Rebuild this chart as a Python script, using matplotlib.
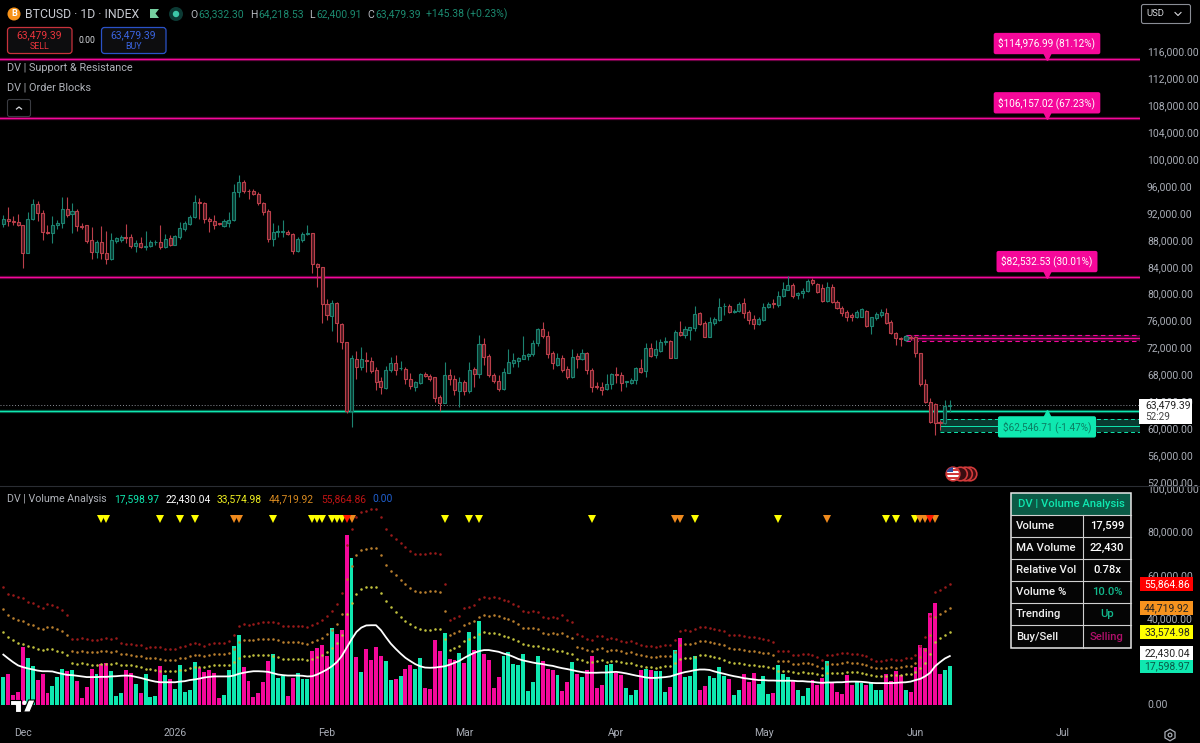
import pandas as pd
import matplotlib
matplotlib.use("Agg")
import matplotlib.pyplot as plt
from matplotlib.patches import Rectangle, FancyBboxPatch, Circle, Polygon, RegularPolygon
from matplotlib.transforms import offset_copy

# daily BTCUSD candles, first bar is 2025-11-27
first_day = "2025-11-27"
opens = [
    90357, 91051, 90853, 90654, 90208, 86091, 91051, 93333, 91944, 89117,
    88968, 90158, 90456, 92539, 91795, 92341, 90109, 90158, 87976, 86190,
    87728, 86091, 85149, 87827, 87976, 88422, 88472, 87083, 87480, 86984,
    87083, 87629, 87728, 86885, 88274, 87282, 88373, 89662, 90307, 91349,
    93581, 93531, 91051, 90853, 90456, 90109, 90456, 90952, 95069, 96656,
    95317, 95317, 94870, 93432, 92341, 88174, 89166, 89216, 89216, 88869,
    86290, 87976, 88869, 89018, 84355, 83909, 78453, 76717, 78552, 75526,
    72848, 62581, 70318, 69029, 70120, 69971, 68632, 66946, 66003, 68632,
    69624, 68880, 68781, 67293, 66152, 66747, 67987, 67789, 67541, 64565,
    63771, 67888, 67293, 65557, 66846, 65507, 68731, 68037, 72501, 70666,
    67888, 67045, 65755, 68235, 69723, 70021, 70318, 70765, 70963, 72600,
    74683, 73691, 71112, 69376, 70368, 68731, 67541, 70715, 70318, 71112,
    68632, 66251, 66152, 65755, 66499, 68037, 67888, 66846, 66747, 67144,
    68880, 68533, 71856, 70864, 71509, 72848, 72947, 70467, 74237, 73840,
    74584, 74931, 77064, 75576, 73542, 75576, 76072, 78106, 78155, 77213,
    77461, 78552, 77312, 76171, 75477, 76072, 78056, 78552, 78304, 79643,
    80536, 81330, 79742, 80040, 80437, 82024, 81429, 80784, 78949, 80933,
    78800, 77907, 77213, 76766, 76469, 76568, 77411, 75179, 76320, 76816,
    77163, 75725, 74187, 73344, 73096, 73542, 73493, 71112, 66499, 63821,
    63622, 60845, 60696, 63332.30,
]
highs = [
    91696, 92936, 91547, 91845, 90208, 92192, 94027, 93829, 92440, 90208,
    91547, 90952, 94325, 94325, 93432, 92539, 90456, 90208, 89861, 87976,
    90109, 89315, 89067, 88472, 88720, 90307, 88869, 87976, 88373, 89315,
    87976, 87976, 90208, 88869, 88770, 88720, 90704, 90803, 91696, 94672,
    94176, 93680, 91448, 91696, 90555, 91051, 92192, 96309, 97648, 96904,
    95515, 95515, 95168, 93581, 92589, 90456, 90208, 90952, 89464, 89067,
    88373, 89216, 90208, 89067, 84504, 84008, 79147, 79048, 78800, 75576,
    72848, 70864, 71509, 72104, 71360, 70616, 69128, 67640, 69227, 70566,
    70864, 69971, 69128, 68235, 67045, 68136, 68384, 67987, 67640, 64912,
    69872, 68731, 67888, 67640, 67144, 69872, 69029, 73840, 73344, 71013,
    68136, 67888, 68880, 71707, 71112, 70616, 73691, 71112, 73096, 74832,
    75824, 74485, 71509, 71112, 70864, 69227, 71707, 71112, 71707, 71261,
    68880, 66896, 66896, 68037, 68235, 69128, 68384, 67045, 67392, 69029,
    70219, 72600, 72600, 73096, 73195, 73592, 73096, 74584, 75923, 75179,
    75080, 78205, 77213, 75923, 76469, 76568, 79296, 78552, 78453, 77709,
    78800, 79296, 77560, 76816, 76568, 78651, 78800, 79147, 80437, 81776,
    82619, 81528, 80288, 80784, 82123, 82272, 81627, 81429, 81776, 81429,
    79048, 78155, 77560, 77064, 77560, 77907, 77560, 76568, 77312, 77659,
    77907, 76072, 74336, 73592, 73840, 73840, 73691, 71211, 67243, 64416,
    63672, 61192, 64168, 64218.53,
]
lows = [
    89960, 90059, 90158, 90059, 83760, 86091, 90952, 90853, 87976, 88869,
    87579, 89563, 89712, 91349, 89067, 89365, 89613, 87480, 85099, 85248,
    85099, 84405, 85000, 87579, 87678, 87480, 86736, 86240, 86736, 86488,
    86885, 87232, 86587, 86736, 87083, 87182, 88174, 89315, 90158, 91200,
    91051, 90456, 89117, 89563, 90208, 89960, 89960, 90853, 94424, 95019,
    94027, 94672, 93184, 91696, 87728, 87083, 88373, 88373, 88720, 85893,
    86190, 87728, 88670, 83115, 80933, 75576, 76072, 74485, 72848, 71707,
    62184, 60101, 67243, 68632, 68384, 68136, 65656, 65061, 65755, 68384,
    67888, 68632, 66549, 65755, 65557, 66549, 67541, 67045, 63920, 62581,
    63771, 66400, 64912, 63077, 64912, 65160, 66053, 67392, 69376, 67541,
    66747, 65557, 65656, 68136, 69029, 69029, 70219, 70120, 70715, 72203,
    73344, 70368, 68731, 69227, 68384, 67243, 67392, 68880, 70120, 68037,
    65408, 65755, 64912, 65656, 65755, 66648, 65557, 66152, 66549, 66549,
    68136, 67541, 70517, 70368, 71360, 72352, 70368, 70368, 73691, 73443,
    73096, 74485, 75328, 73493, 73493, 75328, 75973, 76816, 77064, 77064,
    77312, 76320, 75477, 74733, 75328, 75973, 77907, 77907, 78056, 79544,
    80536, 79296, 79147, 79296, 80288, 81280, 80040, 78800, 78800, 78651,
    77659, 76667, 75923, 75973, 76320, 76469, 75080, 73989, 76072, 76568,
    75477, 73989, 72352, 72253, 72947, 73096, 70517, 66251, 63672, 60696,
    58960, 59704, 60597, 62400.91,
]
closes = [
    91051, 90754, 90654, 90208, 86091, 91051, 93333, 91944, 89117, 89018,
    90208, 90555, 92539, 91696, 92291, 90059, 89960, 87778, 86190, 87728,
    86091, 85099, 87976, 88224, 88373, 88323, 87133, 87480, 86885, 87083,
    87678, 87728, 86885, 88174, 87182, 88571, 89712, 90456, 91448, 93680,
    93432, 91051, 90803, 90258, 90357, 90803, 90952, 95069, 96656, 95317,
    95218, 94821, 93432, 92192, 88075, 89117, 89266, 89315, 88918, 86290,
    88075, 88869, 89067, 84405, 83909, 78453, 76816, 78552, 75576, 72848,
    62581, 70368, 69029, 70219, 69922, 68533, 66896, 66053, 68632, 69624,
    68632, 68979, 67243, 66251, 66797, 67987, 67739, 67342, 64416, 63771,
    67888, 67243, 65656, 66797, 65557, 68632, 68037, 72501, 70616, 67888,
    66995, 65755, 68285, 69872, 70120, 70368, 70814, 71013, 72600, 74683,
    73691, 71013, 69624, 70368, 68632, 67541, 70616, 70219, 71112, 68632,
    66152, 66152, 65656, 66549, 68037, 67888, 66648, 66946, 67144, 68880,
    68384, 71856, 70715, 71757, 72798, 72947, 70467, 74237, 73840, 74733,
    74981, 76915, 75477, 73493, 75725, 76171, 78006, 78205, 77213, 77461,
    78453, 77163, 76072, 75477, 76221, 78056, 78453, 78453, 79643, 80635,
    81280, 79643, 80040, 80437, 81925, 81528, 80288, 78949, 80933, 78800,
    77907, 77163, 76469, 76469, 77312, 77659, 75229, 76469, 76915, 77312,
    75576, 74187, 73344, 73195, 73691, 73443, 71112, 66499, 63821, 60845,
    60696, 60696, 63334, 63479.39,
]
volumes = [
    12653, 14350, 4629, 5709, 26694, 21602, 17745, 11573, 14196, 5401,
    8487, 12653, 16664, 15430, 16202, 11110, 3086, 8024, 16664, 14196,
    18979, 19288, 15430, 3858, 5401, 15893, 14659, 9567, 5401, 14196,
    3549, 3858, 17745, 13887, 11881, 7252, 18207, 5709, 6944, 19750,
    16973, 14967, 15893, 14659, 3086, 4629, 15893, 27003, 32249, 17436,
    11110, 3549, 5401, 10492, 20059, 23454, 12344, 13424, 3858, 12344,
    14659, 12035, 12035, 24997, 26231, 27774, 22374, 35335, 32712, 34718,
    78693, 67738, 22065, 15276, 25922, 20522, 26848, 22682, 20059, 11573,
    11881, 13424, 16664, 18207, 16510, 21756, 7715, 7406, 29934, 24688,
    33329, 21293, 20831, 23917, 19442, 33637, 25460, 38575, 23608, 20831,
    7715, 12807, 22682, 24379, 18979, 18207, 23608, 6481, 10647, 22682,
    20059, 16664, 16047, 13733, 6481, 10338, 19750, 14350, 12807, 15893,
    22374, 7715, 9104, 18516, 18979, 14659, 13887, 7715, 4629, 6944,
    15893, 16664, 16047, 15739, 15739, 5863, 8024, 25460, 30706, 12653,
    13424, 22682, 6944, 8795, 13424, 12190, 17436, 13424, 11881, 4629,
    6944, 14196, 10647, 14504, 9721, 13424, 4783, 5401, 18516, 14196,
    12961, 10801, 6944, 4166, 7715, 11264, 9258, 12190, 20059, 10030,
    6018, 5092, 13578, 9258, 10492, 10030, 9258, 10338, 6944, 6635,
    14350, 10801, 15430, 13578, 6635, 5863, 17436, 27774, 26077, 42433,
    47062, 14350, 16202, 17598.97,
]
# volume moving average and the width of one band above it, in thousands
ma_volume = [
    23.1, 21.3, 19.6, 18.1, 17.3, 16.7, 16.2, 15.7, 15.4, 15.4,
    15.3, 14.7, 14.2, 13.7, 13.6, 13.3, 13.0, 12.7, 12.7, 12.7,
    12.8, 12.8, 13.0, 13.1, 13.3, 13.4, 13.3, 12.8, 12.3, 11.7,
    11.1, 10.6, 10.3, 10.3, 10.3, 10.3, 10.6, 10.8, 11.3, 11.6,
    12.0, 12.5, 12.8, 13.0, 13.0, 13.0, 13.0, 13.4, 14.2, 14.7,
    15.1, 15.4, 15.4, 15.3, 15.1, 14.5, 13.9, 13.6, 13.4, 13.4,
    13.4, 13.3, 13.0, 13.1, 13.9, 15.0, 16.2, 17.7, 19.6, 22.4,
    26.2, 30.1, 33.6, 35.6, 36.6, 36.7, 36.7, 34.4, 31.2, 28.2,
    25.8, 23.6, 21.6, 20.1, 18.7, 17.7, 17.1, 17.0, 17.1, 17.4,
    17.7, 18.4, 19.3, 20.2, 21.6, 22.8, 23.9, 24.7, 25.2, 25.2,
    24.8, 24.4, 23.6, 23.0, 22.1, 21.1, 20.4, 19.9, 19.4, 19.0,
    18.7, 18.2, 17.9, 17.3, 16.8, 16.4, 15.9, 15.4, 15.0, 14.7,
    14.7, 14.7, 14.8, 14.8, 15.0, 15.1, 14.8, 14.4, 13.9, 13.4,
    13.0, 12.5, 12.3, 12.3, 12.5, 12.7, 13.0, 13.7, 14.4, 15.0,
    15.4, 15.9, 16.2, 16.2, 16.0, 15.3, 14.7, 14.2, 13.6, 13.1,
    12.7, 12.2, 11.9, 11.6, 11.3, 11.3, 11.1, 11.1, 11.0, 11.0,
    11.0, 11.0, 10.8, 10.8, 10.6, 10.5, 10.2, 10.0, 10.2, 10.2,
    10.3, 10.3, 10.5, 10.6, 10.6, 10.5, 10.3, 10.0, 9.9, 9.9,
    9.9, 9.9, 10.0, 10.2, 10.3, 10.6, 11.3, 11.9, 13.1, 14.7,
    17.7, 19.6, 21.3, 22.43,
]
band_step = [
    10.5, 10.0, 10.3, 10.6, 10.6, 10.2, 10.3, 9.9, 9.7, 10.3,
    10.3, 10.2, 9.9, 9.3, 5.6, 5.6, 6.0, 5.9, 5.7, 5.7,
    5.9, 6.0, 5.7, 5.9, 5.1, 4.9, 4.9, 4.9, 5.1, 4.8,
    5.2, 5.4, 5.4, 5.2, 5.2, 5.2, 5.4, 5.4, 5.6, 5.6,
    5.4, 4.9, 5.1, 5.1, 5.2, 5.1, 5.4, 6.2, 7.4, 7.6,
    7.3, 7.3, 7.4, 7.6, 7.7, 7.9, 8.0, 7.6, 7.7, 7.7,
    7.7, 7.7, 7.6, 7.9, 8.0, 8.0, 8.2, 8.5, 8.9, 9.7,
    15.9, 17.0, 17.7, 17.9, 17.7, 17.9, 17.9, 17.4, 16.7, 16.8,
    17.0, 17.1, 17.1, 17.0, 17.0, 17.3, 17.6, 17.7, 17.7, 17.4,
    12.7, 6.9, 6.9, 6.9, 7.7, 7.4, 7.4, 8.0, 8.2, 8.0,
    8.3, 8.3, 8.3, 8.3, 8.2, 8.2, 7.6, 7.7, 7.9, 7.9,
    7.3, 7.3, 7.6, 7.6, 8.2, 7.6, 7.4, 5.7, 5.6, 5.2,
    5.1, 5.6, 5.6, 5.1, 5.2, 5.1, 4.9, 4.8, 5.1, 5.1,
    4.9, 4.9, 4.9, 4.8, 4.9, 4.9, 4.8, 5.4, 6.5, 6.5,
    6.2, 6.3, 6.5, 6.6, 6.5, 6.5, 6.6, 6.6, 6.2, 6.3,
    6.5, 6.5, 6.5, 6.5, 6.5, 6.3, 6.3, 5.9, 4.6, 4.6,
    4.6, 3.9, 4.0, 4.2, 4.2, 4.2, 3.9, 3.5, 4.3, 4.2,
    4.3, 4.5, 4.5, 4.3, 4.3, 4.2, 4.0, 3.7, 3.4, 3.4,
    3.5, 3.7, 3.5, 3.5, 3.7, 3.7, 3.9, 5.1, 6.0, 8.8,
    11.4, 11.1, 11.1, 11.145,
]
# bars (counted from 1) that carry a volume warning triangle
yellow_signals = [21, 22, 33, 37, 40, 56, 64, 65, 66, 68, 69, 70, 91, 96, 98,
                  121, 142, 159, 181, 183, 187]
orange_signals = [48, 49, 72, 138, 139, 169, 188, 189, 191]
red_signals = [71, 190]

price_ticks = list(range(52000, 116001, 4000))
volume_ticks = [0, 40000, 60000, 80000, 100000]
month_dates = ["2025-12-01", "2026-01-01", "2026-02-01", "2026-03-01",
               "2026-04-01", "2026-05-01", "2026-06-01", "2026-07-01"]
month_labels = ["Dec", "2026", "Feb", "Mar", "Apr", "May", "Jun", "Jul"]

resistance_levels = [114976.99, 106157.02, 82532.53]
resistance_labels = ["$114,976.99 (81.12%)", "$106,157.02 (67.23%)", "$82,532.53 (30.01%)"]
support_level = 62546.71
support_label = "$62,546.71 (-1.47%)"
bear_block = [72997, 73443, 73840]
bull_block = [59357, 60349, 61291]
bear_block_start = 184
bull_block_start = 191
last_price = 63479.39

table_rows = ["Volume", "MA Volume", "Relative Vol", "Volume %", "Trending", "Buy/Sell"]
table_values = ["17,599", "22,430", "0.78x", "10.0%", "Up", "Selling"]

PINK = "#f5089a"
TEAL = "#0fe8b0"
UP = "#1c8270"
DOWN = "#bb3f4a"
TICK = "#a9adb6"

plt.rcParams["font.family"] = ["Roboto", "DejaVu Sans"]

fig = plt.figure(figsize=(12, 7.43), dpi=100, facecolor="black")
W, H = 1200.0, 743.0

# price pane and volume pane share the same bar positions
xlim = (-3.33 / 4.904, (1140 - 3.33) / 4.904)
ax = fig.add_axes([0, (H - 485) / H, 1140 / W, 485 / H], facecolor="black")
ax_vol = fig.add_axes([0, (H - 720) / H, 1140 / W, (720 - 486) / H], facecolor="black")
ax.set_xlim(xlim)
ax_vol.set_xlim(xlim)
ax.set_ylim(60000 - 57 * 148.8, 60000 + 428 * 148.8)
ax_vol.set_ylim(-(720 - 704.5) / 2.16 * 1000, (704.5 - 486) / 2.16 * 1000)

for a in (ax, ax_vol):
    for side in a.spines.values():
        side.set_visible(False)
    a.yaxis.tick_right()
    a.tick_params(axis="y", length=0, pad=5, labelsize=7.5, labelcolor=TICK)

bars = list(range(len(closes)))
up = [c >= o for o, c in zip(opens, closes)]

# candles
ax.vlines(bars, lows, highs, colors=[UP if u else DOWN for u in up], linewidth=0.8, zorder=3)
tops = [max(o, c) for o, c in zip(opens, closes)]
bottoms = [min(o, c) for o, c in zip(opens, closes)]
ax.bar(bars, [t - b for t, b in zip(tops, bottoms)], bottom=bottoms, width=0.62,
       color=["#0a3a30" if u else "#4a1820" for u in up],
       edgecolor=[UP if u else DOWN for u in up], linewidth=0.8, zorder=4)

# support / resistance lines
for level in resistance_levels:
    ax.axhline(level, color=PINK, linewidth=2.4, alpha=0.3, zorder=2)
    ax.axhline(level, color=PINK, linewidth=1.0, zorder=2)
ax.axhline(support_level, color=TEAL, linewidth=2.4, alpha=0.3, zorder=2)
ax.axhline(support_level, color=TEAL, linewidth=1.0, zorder=2)
ax.axhline(last_price, color="#8a8d95", linewidth=0.7, linestyle=(0, (1, 2)), zorder=2)

# order blocks
right_edge = xlim[1]
ax.fill_between([bear_block_start, right_edge], bear_block[0], bear_block[2], color="#5a0a40", alpha=0.6, lw=0, zorder=1)
ax.hlines([bear_block[0], bear_block[2]], bear_block_start, right_edge, colors=PINK, linewidth=0.8, linestyles=(0, (4, 3)), zorder=2)
ax.hlines(bear_block[1], bear_block_start, right_edge, colors=PINK, linewidth=0.9, zorder=2)
ax.fill_between([bull_block_start, right_edge], bull_block[0], bull_block[2], color="#093c31", lw=0, zorder=1)
ax.hlines([bull_block[0], bull_block[2]], bull_block_start, right_edge, colors=TEAL, linewidth=0.7, linestyles=(0, (4, 3)), zorder=2)
ax.hlines(bull_block[1], bull_block_start, right_edge, colors=TEAL, linewidth=0.7, zorder=2)
ax.plot([bear_block_start], [bear_block[1]], marker="o", markersize=3.5, mfc="#16504a", mec="#2a9a88", mew=0.6, zorder=5)

ax.set_yticks(price_ticks)
ax.set_yticklabels([f"{t:,.2f}" for t in price_ticks])
ax.set_xticks([])

# level tags, the box sits on a small triangle at the level
tag_x = (1047 - 3.33) / 4.904
for level, text in zip(resistance_levels, resistance_labels):
    ax.annotate(text, xy=(tag_x, level), xytext=(0, 15), textcoords="offset pixels",
                ha="center", va="center", color="white", fontsize=7.2, zorder=8,
                bbox=dict(boxstyle="round,pad=0.48,rounding_size=0.2", fc=PINK, ec="none"))
    ax.plot([tag_x], [level], marker="v", markersize=7, color=PINK, zorder=7,
            transform=offset_copy(ax.transData, fig=fig, y=4, units="dots"))
ax.annotate(support_label, xy=(tag_x, support_level), xytext=(0, -16), textcoords="offset pixels",
            ha="center", va="center", color="#0a7d62", fontsize=7.2, zorder=8,
            bbox=dict(boxstyle="round,pad=0.48,rounding_size=0.2", fc=TEAL, ec="none"))
ax.plot([tag_x], [support_level], marker="^", markersize=7, color=TEAL, zorder=7,
        transform=offset_copy(ax.transData, fig=fig, y=-4, units="dots"))

# volume pane
ax_vol.bar(bars, volumes, width=0.8, color=[TEAL if u else PINK for u in up], zorder=2)
ax_vol.plot(bars, [m * 1000 for m in ma_volume], color="white", linewidth=1.3, zorder=4)
band_colors = ["#c0c03e", "#b87f2e", "#981a1a"]
for n, col in enumerate(band_colors):
    band = [(m + (n + 1) * s) * 1000 for m, s in zip(ma_volume, band_step)]
    ax_vol.scatter(bars, band, s=3.4, color=col, linewidths=0, zorder=3)

sig_t = ax_vol.get_xaxis_transform()
sig_y = (720 - 519) / (720 - 486)
for sig, col in [(yellow_signals, "#ffff00"), (orange_signals, "#ef8a1d"), (red_signals, "#ff1a00")]:
    xs = [b - 1 for b in sig]
    ax_vol.plot(xs, [sig_y] * len(xs), linestyle="none", marker="v", markersize=5.8,
                color=col, mew=0, transform=sig_t, zorder=5)

ax_vol.set_yticks(volume_ticks)
ax_vol.set_yticklabels([f"{t:,.2f}" for t in volume_ticks])
month_pos = [(pd.Timestamp(d) - pd.Timestamp(first_day)).days for d in month_dates]
ax_vol.set_xticks(month_pos)
ax_vol.set_xticklabels(month_labels)
ax_vol.tick_params(axis="x", length=0, pad=6, labelsize=7.5, labelcolor=TICK)

# coloured value tags on the volume scale
tag_rows = [(55864.86, "#ff0000", "white", 0), (44719.92, "#f7931e", "#222222", 0),
            (33574.98, "#ffff00", "#222222", 0), (22430.04, "white", "#222222", 3),
            (17598.97, TEAL, "#0a5a48", 0)]
tag_t = ax_vol.get_yaxis_transform()
for value, bg, fg, shift in tag_rows:
    shift_val = shift / 2.16 * 1000
    ax_vol.add_patch(Rectangle((1.0, value + shift_val - 6.8 / 2.16 * 1000), 53 / 1140, 13.6 / 2.16 * 1000,
                               transform=tag_t, clip_on=False, fc=bg, ec="none", zorder=6))
    ax_vol.text(1.0 + 27 / 1140, value + shift_val, f"{value:,.2f}", transform=tag_t, color=fg,
                fontsize=7.5, ha="center", va="center", zorder=7, clip_on=False)

# everything that is screen furniture goes on an overlay in pixel units
ui = fig.add_axes([0, 0, 1, 1], facecolor="none", zorder=10)
ui.set_xlim(0, W)
ui.set_ylim(H, 0)
ui.axis("off")


def label(x, y, s, color="#c8cbd2", size=7.4, ha="left", weight="normal"):
    ui.text(x, y, s, color=color, fontsize=size, ha=ha, va="center", fontweight=weight)


ui.plot([0, W], [486, 486], color="#2a2d33", linewidth=0.8)

# header
ui.add_patch(Circle((14, 14), 6.5, fc="#f7931a", ec="none"))
label(14, 14, "B", color="white", size=6.5, ha="center", weight="bold")
label(25, 14.5, "BTCUSD · 1D · INDEX", color="#c8cbd2", size=8.8)
ui.add_patch(Polygon([(150, 9), (159, 9), (155.5, 13.5), (159, 18), (150, 18)], fc="#76cfa0", ec="none"))
ui.add_patch(Circle((176, 14), 7, fc="#0c3a34", ec="none"))
ui.add_patch(Circle((176, 14), 3.2, fc="#3cc8a8", ec="none"))
GREEN_TXT = "#1c8a70"
for x, s, col in [(190, "O", "#b8bbc2"), (198, "63,332.30", GREEN_TXT), (250, "H", "#b8bbc2"),
                  (258, "64,218.53", GREEN_TXT), (309, "L", "#b8bbc2"), (316, "62,400.91", GREEN_TXT),
                  (367, "C", "#b8bbc2"), (375, "63,479.39", GREEN_TXT), (426, "+145.38 (+0.23%)", GREEN_TXT)]:
    label(x, 14.5, s, color=col, size=7.5)

# sell / buy buttons
for x0, col, word, txt in [(7.5, "#c8323c", "SELL", "#e8343c"), (101.5, "#2a52c8", "BUY", "#3a64e0")]:
    ui.add_patch(FancyBboxPatch((x0, 27.5), 64.5, 26, boxstyle="round,pad=0,rounding_size=3",
                                fc="#0d0d0f", ec=col, linewidth=0.9))
    label(x0 + 32, 35, "63,479.39", color=txt, size=7.5, ha="center")
    label(x0 + 32, 46.5, word, color=txt, size=6.4, ha="center")
label(87, 40.5, "0.00", color="#d8dade", size=6.2, ha="center")

label(7, 68, "DV | Support & Resistance", color="#b0b3ba", size=7.8)
label(7, 88, "DV | Order Blocks", color="#b0b3ba", size=7.8)
ui.add_patch(FancyBboxPatch((7.5, 99.5), 23, 17, boxstyle="round,pad=0,rounding_size=2",
                            fc="none", ec="#3a3c42", linewidth=0.8))
ui.plot([16.5, 19, 21.5], [109, 107, 109], color="#d8dade", linewidth=0.9)

# USD selector
ui.add_patch(FancyBboxPatch((1141.5, 4.5), 49, 19, boxstyle="round,pad=0,rounding_size=2",
                            fc="black", ec="#8a8d95", linewidth=0.8))
label(1146, 14, "USD", color="#d8dade", size=6.8)
ui.plot([1175, 1178, 1181], [12.5, 15.5, 12.5], color="#d8dade", linewidth=0.8)

# last price tag
ui.add_patch(Rectangle((1139, 399), 53, 25, fc="white", ec="none", zorder=6))
label(1145, 405.5, "63,479.39", color="#222222", size=7.5)
ui.texts[-1].set_zorder(7)
label(1145, 417.5, "52:29", color="#444444", size=7.2)
ui.texts[-1].set_zorder(7)

# economic event badges
for cx in [970, 965.5, 960.5]:
    ui.add_patch(Circle((cx, 474), 6.8, fc="#3a0c10", ec="#d23a3a", linewidth=1.2))
badge = Circle((953, 474), 6.8, fc="white", ec="#d23a3a", linewidth=1.2)
ui.add_patch(badge)
for y0 in [469, 473, 477]:
    stripe = Rectangle((945, y0), 16, 1.8, fc="#d23a3a", ec="none")
    ui.add_patch(stripe)
    stripe.set_clip_path(badge)
canton = Rectangle((945, 466), 8, 6, fc="#2f4f9f", ec="none")
ui.add_patch(canton)
canton.set_clip_path(badge)

# volume legend row
label(7, 499, "DV | Volume Analysis", color="#b0b3ba", size=7.7)
for x, s, col in [(114, "17,598.97", TEAL), (166, "22,430.04", "white"), (217, "33,574.98", "#f0f020"),
                  (269, "44,719.92", "#d88a20"), (321, "55,864.86", "#c01414"), (372, "0.00", "#2060d0")]:
    label(x, 499.5, s, color=col, size=7.4)

# info table
row_edges = [515, 537.3, 559.3, 581.3, 603.3, 625.3, 648]
ui.add_patch(Rectangle((1011, 493), 120, 155, fc="#050505", ec="none"))
ui.add_patch(Rectangle((1011, 493), 120, 22, fc="#0b5a46", ec="none"))
ui.add_patch(Rectangle((1011, 493), 120, 155, fc="none", ec="#e8e8e8", linewidth=1.1))
for y in row_edges[:-1]:
    ui.plot([1011, 1131], [y, y], color="#d0d0d0", linewidth=0.8)
ui.plot([1082.7, 1082.7], [515, 648], color="#d0d0d0", linewidth=0.8)
label(1071, 504, "DV | Volume Analysis", color=TEAL, size=8.1, ha="center", weight="medium")
value_colors = ["white", "white", "white", "#12b88c", "#12b88c", "#b0106a"]
for i, (name, val, col) in enumerate(zip(table_rows, table_values, value_colors)):
    y = (row_edges[i] + row_edges[i + 1]) / 2
    label(1016, y, name, color="#f0f0f0", size=8.2, weight="medium")
    label(1107, y, val, color=col, size=8.1, ha="center", weight="medium")

# TradingView mark and settings gear
ui.add_patch(Polygon([(10, 700), (21, 700), (21, 712), (15, 712), (15, 705), (10, 705)], fc="white", ec="black", linewidth=0.8))
ui.add_patch(Circle((24.5, 702.8), 2.2, fc="white", ec="none"))
ui.add_patch(Polygon([(28.5, 700), (35, 700), (30, 712), (23.5, 712)], fc="white", ec="black", linewidth=0.8))
ui.add_patch(RegularPolygon((1170, 735), 6, radius=5.8, fc="none", ec="#a9adb6", linewidth=0.9))
ui.add_patch(Circle((1170, 735), 1.9, fc="none", ec="#a9adb6", linewidth=0.9))

fig.savefig("out.png", dpi=100, facecolor="black")
